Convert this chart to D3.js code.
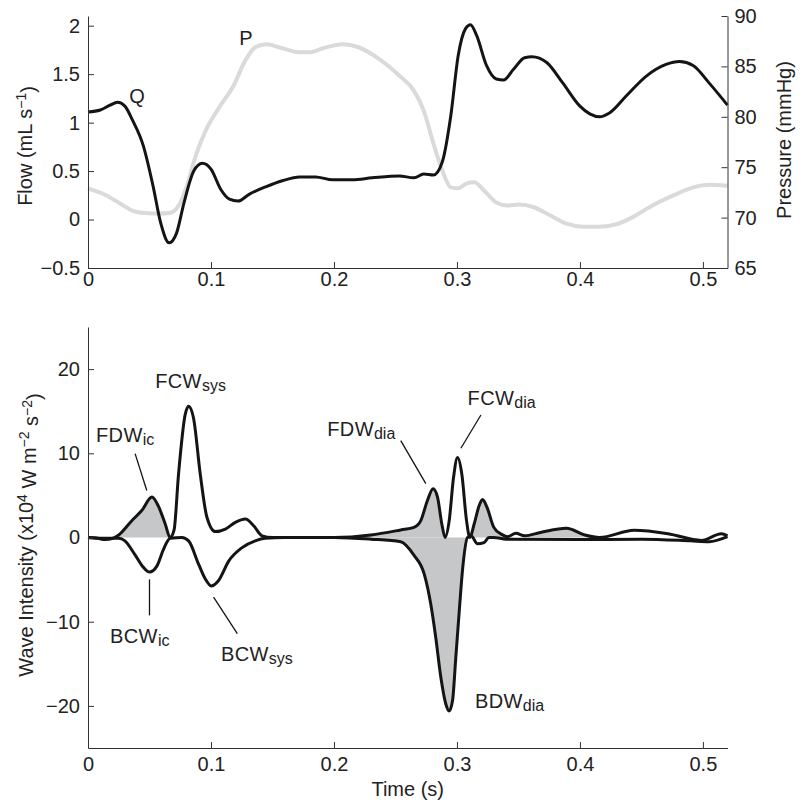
<!DOCTYPE html>
<html>
<head>
<meta charset="utf-8">
<script src="https://cdn.jsdelivr.net/npm/d3@7"></script>
<style>
    body { margin: 0; background: #fff; }
    svg { font-family: "Liberation Sans", Arial, Helvetica, sans-serif; }
    .axis path, .axis line { stroke: #333; stroke-width: 1; }
    .axis text { font-size: 20px; fill: #222; font-family: "Liberation Sans", Arial, sans-serif; }
    .label { font-size: 20px; fill: #222; }
    .wlabel { letter-spacing: 0.4px; }
    .sub { font-size: 16px; letter-spacing: 0; }
    .sup { font-size: 14px; }
</style>
</head>
<body>
<script>

// flow (Q), mL/s
var flowTime = [0, 0.01, 0.018, 0.024, 0.03, 0.036, 0.045, 0.053, 0.059, 0.066, 0.072, 0.078, 0.086, 0.093, 0.1,
    0.108, 0.115, 0.122, 0.131, 0.145, 0.158, 0.172, 0.185, 0.199, 0.215, 0.231, 0.253, 0.265, 0.273, 0.281,
    0.288, 0.295, 0.301, 0.307, 0.311, 0.316, 0.324, 0.332, 0.338, 0.346, 0.355, 0.361, 0.373, 0.386, 0.4,
    0.408, 0.416, 0.424, 0.438, 0.454, 0.47, 0.481, 0.492, 0.505, 0.52];
var flowValue = [1.11, 1.13, 1.18, 1.21, 1.17, 1.03, 0.76, 0.34, -0.03, -0.24, -0.14, 0.17, 0.5, 0.58, 0.52,
    0.31, 0.21, 0.19, 0.26, 0.34, 0.4, 0.44, 0.44, 0.41, 0.41, 0.43, 0.45, 0.43, 0.47, 0.46,
    0.59, 1.07, 1.69, 1.97, 2.01, 1.9, 1.59, 1.45, 1.44, 1.55, 1.67, 1.68, 1.62, 1.41, 1.17,
    1.09, 1.06, 1.1, 1.28, 1.48, 1.6, 1.63, 1.59, 1.41, 1.18];

// pressure (P), mmHg
var pressTime = [0, 0.015, 0.026, 0.036, 0.047, 0.058, 0.066, 0.073, 0.08, 0.088, 0.096, 0.107, 0.118, 0.128,
    0.136, 0.145, 0.158, 0.172, 0.18, 0.191, 0.207, 0.22, 0.236, 0.253, 0.265, 0.273, 0.281, 0.288, 0.295,
    0.301, 0.308, 0.314, 0.322, 0.332, 0.341, 0.351, 0.362, 0.376, 0.389, 0.403, 0.416, 0.43, 0.443, 0.459,
    0.476, 0.492, 0.505, 0.52];
var pressValue = [72.9, 72.2, 71.4, 70.7, 70.45, 70.4, 70.45, 71.05, 73.0, 76.3, 78.7, 81.0, 83.0, 85.6,
    86.9, 87.2, 86.8, 86.4, 86.4, 86.8, 87.2, 86.9, 85.8, 84.1, 82.6, 80.6, 77.3, 74.7, 73.0,
    72.9, 73.4, 73.5, 72.7, 71.5, 71.2, 71.3, 71.05, 70.2, 69.4, 69.1, 69.1, 69.35, 70.05, 71.2,
    72.2, 73.0, 73.25, 73.15];

// forward wave intensity, x10^4 W m^-2 s^-2
var fwdTime = [0, 0.008, 0.014, 0.02, 0.025, 0.0356, 0.0437, 0.052, 0.0573, 0.0628, 0.0668, 0.07, 0.0736,
    0.079, 0.0818, 0.0858, 0.0913, 0.0967, 0.1035, 0.1117, 0.1198, 0.128, 0.1347, 0.1415, 0.15, 0.2, 0.23,
    0.2543, 0.2651, 0.2706, 0.276, 0.2806, 0.2842, 0.2877, 0.2904, 0.2937, 0.2972, 0.3005, 0.304, 0.3078,
    0.3105, 0.314, 0.3181, 0.3208, 0.3244, 0.33, 0.336, 0.341, 0.348, 0.355, 0.368, 0.389, 0.404, 0.416,
    0.444, 0.4716, 0.4988, 0.515, 0.52];
var fwdValue = [0, -0.1, -0.25, -0.1, 0.3, 2.0, 3.2, 4.8, 3.7, 1.6, 0, 0.9, 7.5,
    14.6, 15.6, 14.2, 7.5, 2.4, 0.7, 1.0, 1.8, 2.2, 1.4, 0.2, 0, 0, 0.3,
    0.9, 1.2, 2.0, 4.4, 5.8, 4.8, 1.6, 0, 2.0, 7.1, 9.5, 7.5, 2.0,
    0, 1.6, 3.8, 4.5, 3.6, 1.2, 0.4, 0.1, 0.5, 0.2, 0.6, 1.1, 0.3, 0,
    0.85, 0.45, -0.35, 0.45, 0.2];

// backward wave intensity
var bwdTime = [0, 0.015, 0.025, 0.03, 0.038, 0.0451, 0.05, 0.056, 0.0614, 0.0668, 0.0763, 0.0818, 0.09,
    0.0953, 0.1002, 0.1062, 0.1144, 0.1253, 0.136, 0.144, 0.16, 0.2, 0.23, 0.2543, 0.265, 0.2733, 0.2787,
    0.2828, 0.2869, 0.291, 0.2937, 0.2964, 0.2991, 0.3019, 0.3045, 0.3086, 0.3115, 0.3167, 0.322, 0.326,
    0.33, 0.34, 0.4, 0.45, 0.49, 0.505, 0.52];
var bwdValue = [0, -0.1, -0.1, -0.4, -2.0, -3.55, -4.1, -3.4, -1.4, -0.1, 0, -0.4, -3.2,
    -4.9, -5.75, -5.1, -2.8, -1.2, -0.4, -0.1, 0, 0, -0.2, -0.5, -2.1, -4.3, -7.9,
    -11.9, -16.6, -19.8, -20.6, -19.4, -14.2, -8.7, -3.9, 0, 0.2, -0.75, -0.6, 0,
    0, -0.2, -0.25, -0.2, -0.4, -0.5, 0.1];

// shaded (decompression) intervals, seconds
var fwdShade = [[0.02, 0.0668], [0.2, 0.2904], [0.3105, 0.336], [0.355, 0.41]];
var bwdShade = [[0.2, 0.3086]];

// tick values
var timeTicks = [0, 0.1, 0.2, 0.3, 0.4, 0.5];
var flowTicks = [-0.5, 0, 0.5, 1, 1.5, 2];
var pressTicks = [65, 70, 75, 80, 85, 90];
var waveTicks = [-20, -10, 0, 10, 20];

// wave labels: text, subscript, time, intensity
var waveLabels = [
    ["FDW", "ic", 0.0065, 11.3],
    ["FCW", "sys", 0.0546, 17.7],
    ["FDW", "dia", 0.1945, 12.1],
    ["FCW", "dia", 0.3086, 15.7],
    ["BCW", "ic", 0.0179, -12.55],
    ["BCW", "sys", 0.1081, -14.7],
    ["BDW", "dia", 0.3146, -20.3]
];
// leader lines: t0, v0, t1, v1
var leaders = [
    [0.0383, 9.96, 0.0478, 5.58],
    [0.2543, 11.5, 0.2747, 6.4],
    [0.3195, 14.55, 0.3032, 10.6],
    [0.05, -4.98, 0.05, -9.25],
    [0.1021, -7.08, 0.1214, -11.42]
];

// set the dimensions of the two panels
var left = 88, right = 727.5;
var top1 = 16, bottom1 = 268;
var top2 = 327, bottom2 = 748;

var x = d3.scaleLinear().domain([0, 0.52]).range([left, right]);
var yFlow = d3.scaleLinear().domain([-0.5, 2.1]).range([bottom1, top1]);
var yPress = d3.scaleLinear().domain([65, 90]).range([bottom1, top1]);
var yWave = d3.scaleLinear().domain([-25, 25]).range([bottom2, top2]);

var fmt = d3.format("~g");

function pairs(ts, vs) {
    return ts.map(function (t, i) { return [t, vs[i]]; });
}

var svg = d3.select("body").append("svg")
    .attr("width", 808)
    .attr("height", 801);

// top panel lines
var pressLine = d3.line()
    .x(function (d) { return x(d[0]); })
    .y(function (d) { return yPress(d[1]); })
    .curve(d3.curveMonotoneX);
var flowLine = d3.line()
    .x(function (d) { return x(d[0]); })
    .y(function (d) { return yFlow(d[1]); })
    .curve(d3.curveMonotoneX);

svg.append("path")
    .attr("d", pressLine(pairs(pressTime, pressValue)))
    .attr("fill", "none")
    .attr("stroke", "#d9dadb")
    .attr("stroke-width", 4);

svg.append("path")
    .attr("d", flowLine(pairs(flowTime, flowValue)))
    .attr("fill", "none")
    .attr("stroke", "#141414")
    .attr("stroke-width", 3);

svg.append("text").attr("class", "label")
    .attr("x", x(0.0399)).attr("y", yFlow(1.2))
    .attr("text-anchor", "middle").text("Q");
svg.append("text").attr("class", "label")
    .attr("x", x(0.1285)).attr("y", yFlow(1.8))
    .attr("text-anchor", "middle").text("P");

// top panel axes
svg.append("g")
    .attr("class", "axis")
    .attr("transform", "translate(0," + bottom1 + ")")
    .call(d3.axisBottom(x).tickValues(timeTicks).tickFormat(fmt)
        .tickSizeInner(-6).tickSizeOuter(0).tickPadding(4));

svg.append("g")
    .attr("class", "axis")
    .attr("transform", "translate(" + left + ",0)")
    .call(d3.axisLeft(yFlow).tickValues(flowTicks).tickFormat(fmt)
        .tickSizeInner(-6).tickSizeOuter(0).tickPadding(8));

svg.append("g")
    .attr("class", "axis")
    .attr("transform", "translate(" + right + ",0)")
    .call(d3.axisRight(yPress).tickValues(pressTicks).tickFormat(fmt)
        .tickSizeInner(-6).tickSizeOuter(0).tickPadding(7));

var flowTitle = svg.append("text").attr("class", "label")
    .attr("transform", "translate(32," + 146 + ") rotate(-90)")
    .attr("text-anchor", "middle");
flowTitle.append("tspan").text("Flow (mL s");
flowTitle.append("tspan").attr("class", "sup").attr("dy", "-0.45em").text("\u22121");
flowTitle.append("tspan").attr("dy", "0.45em").text(")");

svg.append("text").attr("class", "label")
    .attr("transform", "translate(791," + 140 + ") rotate(-90)")
    .attr("text-anchor", "middle")
    .text("Pressure (mmHg)");

// bottom panel: shaded areas
var waveArea = d3.area()
    .x(function (d) { return x(d[0]); })
    .y0(yWave(0))
    .y1(function (d) { return yWave(d[1]); })
    .curve(d3.curveMonotoneX);
var waveLine = d3.line()
    .x(function (d) { return x(d[0]); })
    .y(function (d) { return yWave(d[1]); })
    .curve(d3.curveMonotoneX);

function shadeClip(id, intervals) {
    svg.append("clipPath").attr("id", id)
        .selectAll("rect").data(intervals).join("rect")
        .attr("x", function (d) { return x(d[0]); })
        .attr("width", function (d) { return x(d[1]) - x(d[0]); })
        .attr("y", top2)
        .attr("height", bottom2 - top2);
}
shadeClip("fwdClip", fwdShade);
shadeClip("bwdClip", bwdShade);

svg.append("path")
    .attr("d", waveArea(pairs(fwdTime, fwdValue)))
    .attr("clip-path", "url(#fwdClip)")
    .attr("fill", "#c6c7c9");
svg.append("path")
    .attr("d", waveArea(pairs(bwdTime, bwdValue)))
    .attr("clip-path", "url(#bwdClip)")
    .attr("fill", "#c6c7c9");

svg.append("path")
    .attr("d", waveLine(pairs(bwdTime, bwdValue)))
    .attr("fill", "none")
    .attr("stroke", "#141414")
    .attr("stroke-width", 3);
svg.append("path")
    .attr("d", waveLine(pairs(fwdTime, fwdValue)))
    .attr("fill", "none")
    .attr("stroke", "#141414")
    .attr("stroke-width", 3);

// leader lines and labels
svg.selectAll(".leader").data(leaders).join("line")
    .attr("class", "leader")
    .attr("x1", function (d) { return x(d[0]); })
    .attr("y1", function (d) { return yWave(d[1]); })
    .attr("x2", function (d) { return x(d[2]); })
    .attr("y2", function (d) { return yWave(d[3]); })
    .attr("stroke", "#141414")
    .attr("stroke-width", 1.3);

var wl = svg.selectAll(".wlabel").data(waveLabels).join("text")
    .attr("class", "label wlabel")
    .attr("x", function (d) { return x(d[2]); })
    .attr("y", function (d) { return yWave(d[3]); });
wl.append("tspan").text(function (d) { return d[0]; });
wl.append("tspan").attr("class", "sub").attr("dy", 3).text(function (d) { return d[1]; });

// bottom panel axes
svg.append("g")
    .attr("class", "axis")
    .attr("transform", "translate(0," + bottom2 + ")")
    .call(d3.axisBottom(x).tickValues(timeTicks).tickFormat(fmt)
        .tickSizeInner(-6).tickSizeOuter(0).tickPadding(9));

svg.append("g")
    .attr("class", "axis")
    .attr("transform", "translate(" + left + ",0)")
    .call(d3.axisLeft(yWave).tickValues(waveTicks).tickFormat(fmt)
        .tickSizeInner(-6).tickSizeOuter(0).tickPadding(8));

var waveTitle = svg.append("text").attr("class", "label")
    .attr("transform", "translate(33," + 535 + ") rotate(-90)")
    .attr("text-anchor", "middle");
waveTitle.append("tspan").text("Wave Intensity (x10");
waveTitle.append("tspan").attr("class", "sup").attr("dy", "-0.45em").text("4");
waveTitle.append("tspan").attr("dy", "0.45em").text(" W m");
waveTitle.append("tspan").attr("class", "sup").attr("dy", "-0.45em").text("\u22122");
waveTitle.append("tspan").attr("dy", "0.45em").text(" s");
waveTitle.append("tspan").attr("class", "sup").attr("dy", "-0.45em").text("\u22122");
waveTitle.append("tspan").attr("dy", "0.45em").text(")");

svg.append("text").attr("class", "label")
    .attr("x", (left + right) / 2)
    .attr("y", 796)
    .attr("text-anchor", "middle")
    .text("Time (s)");

</script>
</body>
</html>
